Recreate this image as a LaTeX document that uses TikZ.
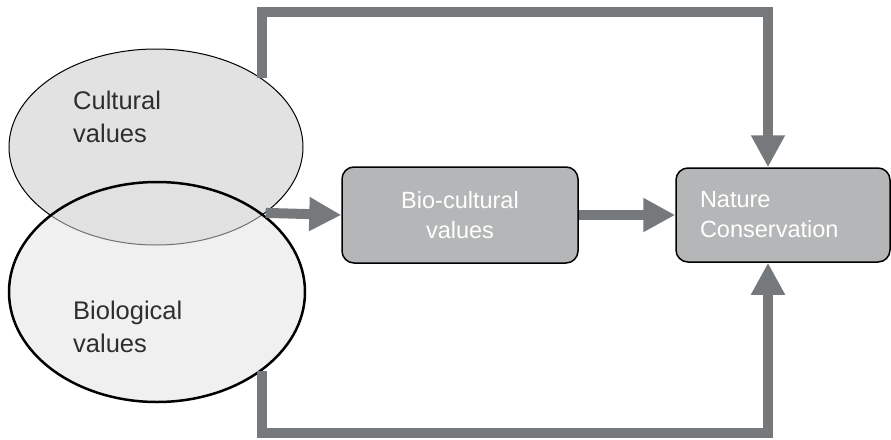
\documentclass[tikz,border=0pt]{standalone}
\usepackage{fontspec}
\setmainfont{Liberation Sans}
\usepackage{tikz}
\usetikzlibrary{calc,shapes.geometric,arrows.meta}
\definecolor{arrowgray}{HTML}{76797B}
\definecolor{boxgray}{HTML}{B4B6B7}
\definecolor{cultfill}{HTML}{E2E2E2}
\definecolor{biofill}{HTML}{E1E1E1}
\definecolor{txtdark}{HTML}{2E2E2E}
\tikzset{>={Triangle[length=32pt,width=32pt]}}
\tikzset{
    valuebox/.style={draw=black, line width=1.5pt, fill=boxgray, rounded corners=12pt,
        text=white, font=\fontsize{23.5}{30}\selectfont},
    lbl/.style={anchor=west, inner sep=0pt, align=left, text=txtdark,
        font=\fontsize{25.5}{33}\selectfont},
    conn/.style={->, line width=10pt, draw=arrowgray, line join=miter}
}

\begin{document}
\begin{tikzpicture}[x=1pt, y=-1pt]
    \useasboundingbox (0,0) rectangle (891,439);

    \node[ellipse, draw, line width=1pt, fill=cultfill, minimum width=294pt, minimum height=196pt, inner sep=0pt]
        (cult) at (156,147) {};
    \node[ellipse, draw, line width=2.5pt, fill=biofill, fill opacity=0.5, minimum width=296pt, minimum height=220pt, inner sep=0pt]
        (bio) at (157,292) {};

    \node[lbl] (culttxt) at (73,117) {Cultural\\values};
    \node[lbl] (biotxt) at (73,327) {Biological\\values};

    \node[valuebox, minimum width=236pt, minimum height=96pt, align=center] (bc) at (460,215) {Bio-cultural\\values};
    \node[valuebox, minimum width=214pt, minimum height=94pt, text width=166pt, inner xsep=24pt, align=left] (nc) at (783,215) {Nature\\Conservation};

    % straight arrows
    \draw[conn] (cult.-31) -- (bc.west);
    \draw[conn] (bc.east) -- (nc.west);

    % around the top and the bottom
    \draw[conn] (cult.33) -- ++(0,-66) -| ([xshift=-15pt]nc.north);
    \draw[conn] (bio.-37) -- ++(0,62) -| ([xshift=-15pt]nc.south);
\end{tikzpicture}
\end{document}
